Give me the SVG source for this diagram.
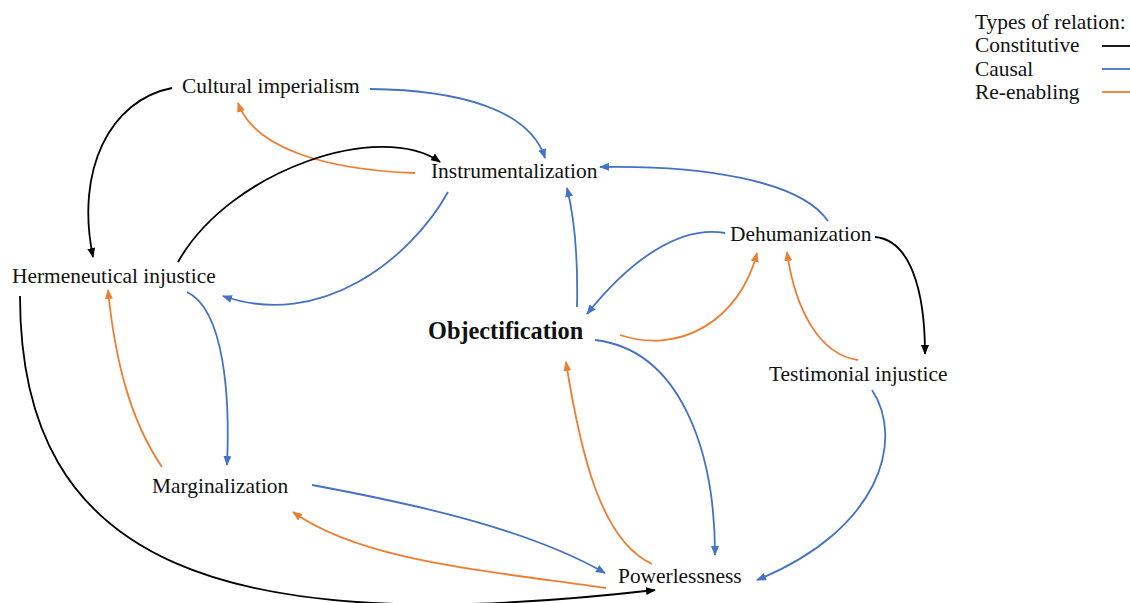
<svg xmlns="http://www.w3.org/2000/svg" width="1130" height="603" viewBox="0 0 1130 603">
  <style>
    text { font-family: "Liberation Serif", "Times New Roman", serif; font-size: 21.4px; fill: #111; }
    .bold { font-weight: bold; font-size: 24.3px; }
    .c { fill: none; stroke-width: 1.8; }
    .k { stroke: #000; }
    .b { stroke: #4472C4; }
    .o { stroke: #ED7D31; }
  </style>
  <defs>
    <marker id="ak" viewBox="0 0 10 8" refX="9" refY="4" markerWidth="10" markerHeight="8" markerUnits="userSpaceOnUse" orient="auto"><path d="M0,0 L10,4 L0,8 Z" fill="#000"/></marker>
    <marker id="ab" viewBox="0 0 10 8" refX="9" refY="4" markerWidth="10" markerHeight="8" markerUnits="userSpaceOnUse" orient="auto"><path d="M0,0 L10,4 L0,8 Z" fill="#4472C4"/></marker>
    <marker id="ao" viewBox="0 0 10 8" refX="9" refY="4" markerWidth="10" markerHeight="8" markerUnits="userSpaceOnUse" orient="auto"><path d="M0,0 L10,4 L0,8 Z" fill="#ED7D31"/></marker>
  </defs>

  <!-- legend -->
  <g id="legend">
    <text x="975" y="29">Types of relation:</text>
    <text x="975" y="52">Constitutive</text>
    <text x="975" y="76">Causal</text>
    <text x="975" y="99">Re-enabling</text>
    <line x1="1102" y1="46" x2="1130" y2="46" class="c k"/>
    <line x1="1102" y1="69" x2="1130" y2="69" class="c b"/>
    <line x1="1102" y1="92" x2="1130" y2="92" class="c o"/>
  </g>

  <!-- relations -->
  <g id="connectors">
    <path class="c k" marker-end="url(#ak)" d="M172,88 C110,100 75,170 93,257"/>
    <path class="c o" marker-end="url(#ao)" d="M415,173 C330,170 255,150 238,103"/>
    <path class="c k" marker-end="url(#ak)" d="M178,262 C230,170 380,120 440,162"/>
    <path class="c b" marker-end="url(#ab)" d="M370,89 C460,90 530,110 545,158"/>
    <path class="c b" marker-end="url(#ab)" d="M448,192 C410,260 320,330 223,296"/>
    <path class="c b" marker-end="url(#ab)" d="M828,221 C800,180 700,165 600,167"/>
    <path class="c b" marker-end="url(#ab)" d="M577,307 C578,260 575,220 567,188"/>
    <path class="c b" marker-end="url(#ab)" d="M725,233 C680,225 630,260 587,314"/>
    <path class="c o" marker-end="url(#ao)" d="M620,335 C680,355 740,320 757,253"/>
    <path class="c k" marker-end="url(#ak)" d="M875,237 C910,240 925,290 925,354"/>
    <path class="c o" marker-end="url(#ao)" d="M858,360 C820,355 795,310 787,252"/>
    <path class="c b" marker-end="url(#ab)" d="M595,340 C680,350 715,450 715,555"/>
    <path class="c o" marker-end="url(#ao)" d="M652,564 C600,540 580,450 566,362"/>
    <path class="c b" marker-end="url(#ab)" d="M872,390 C905,440 880,530 757,580"/>
    <path class="c b" marker-end="url(#ab)" d="M187,292 C225,310 230,400 227,465"/>
    <path class="c o" marker-end="url(#ao)" d="M162,467 C130,420 115,360 108,290"/>
    <path class="c k" marker-end="url(#ak)" d="M20,296 C20,565 220,640 655,590"/>
    <path class="c b" marker-end="url(#ab)" d="M312,485 C420,505 530,530 605,573"/>
    <path class="c o" marker-end="url(#ao)" d="M606,588 C480,570 360,560 293,512"/>
  </g>

  <!-- concepts -->
  <g id="cultural-imperialism"><text x="182" y="93">Cultural imperialism</text></g>
  <g id="instrumentalization"><text x="431" y="178">Instrumentalization</text></g>
  <g id="hermeneutical-injustice"><text x="12" y="283">Hermeneutical injustice</text></g>
  <g id="dehumanization"><text x="730" y="241">Dehumanization</text></g>
  <g id="objectification"><text class="bold" x="428" y="339">Objectification</text></g>
  <g id="testimonial-injustice"><text x="769" y="381">Testimonial injustice</text></g>
  <g id="marginalization"><text x="152" y="493">Marginalization</text></g>
  <g id="powerlessness"><text x="618" y="583">Powerlessness</text></g>
</svg>
